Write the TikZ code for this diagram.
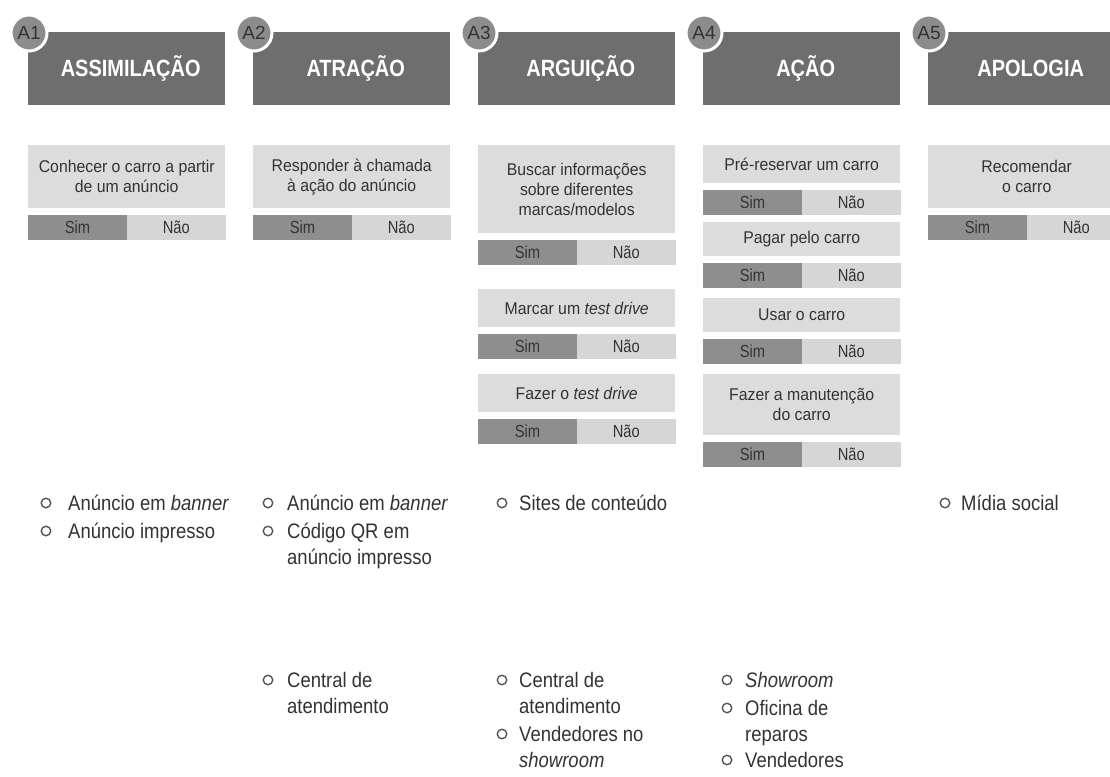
\documentclass[tikz,border=0pt]{standalone}
\usepackage{fontspec}
\setmainfont{Liberation Sans}
\newfontfamily\hdrf[FakeStretch=0.85]{Liberation Sans}
\newfontfamily\boxf[FakeStretch=0.93]{Liberation Sans}
\newfontfamily\simf[FakeStretch=0.84]{Liberation Sans}
\newfontfamily\lstf[FakeStretch=0.88]{Liberation Sans}
\definecolor{hdrc}{HTML}{6E6E6E}
\definecolor{circc}{HTML}{8C8C8C}
\definecolor{qc}{HTML}{DCDCDC}
\definecolor{simc}{HTML}{8E8E8E}
\definecolor{naoc}{HTML}{D6D6D6}
\definecolor{txtc}{HTML}{333333}
\definecolor{bulc}{HTML}{555555}
\tikzset{
  hdr/.style={fill=hdrc, anchor=north west, minimum width=197pt, minimum height=73pt, inner sep=0pt, text=white, font=\hdrf\bfseries\fontsize{23.5}{26}\selectfont},
  hdrtxt/.style={text=white, inner sep=0pt, font=\hdrf\bfseries\fontsize{23.5}{26}\selectfont},
  circ/.style={circle, fill=circc, draw=white, line width=3pt, minimum size=36pt, inner sep=0pt, text=txtc, font=\fontsize{19}{20}\selectfont},
  qbox/.style={fill=qc, anchor=north west, minimum width=197pt, inner sep=0pt, align=center, text=txtc, font=\boxf\fontsize{17}{20}\selectfont},
  simbox/.style={fill=simc, anchor=north west, minimum width=98.5pt, minimum height=25pt, inner sep=0pt, text=txtc, font=\simf\fontsize{17.5}{18}\selectfont},
  naobox/.style={simbox, fill=naoc},
  bul/.style={circle, draw=bulc, line width=1.4pt, minimum size=9.5pt, inner sep=0pt},
  itm/.style={anchor=base west, inner sep=0pt, text=txtc, font=\lstf\fontsize{21}{26}\selectfont},
}
\newcommand\decq[5]{%
  \node[qbox, minimum height=#4pt] (#1) at (#2,#3) {#5};
  \node[simbox] (#1s) at ([yshift=-6pt]#1.south west) {Sim};
  \node[naobox] (#1n) at (#1s.north east) {Não};
}
\newcommand\lstitem[5]{%
  \node[bul] (#1b) at (#2,#3) {};
  \node[itm] (#1) at (#4,#3+7) {#5};
}
\begin{document}
\begin{tikzpicture}[x=1pt,y=-1pt]
\useasboundingbox (0,0) rectangle (1110,776);
\fill[white] (0,0) rectangle (1110,776);
\clip (0,0) rectangle (1110,776);
% headers
\node[hdr] (h1) at (28,32) {\hspace*{8pt}ASSIMILAÇÃO};
\node[hdr] (h2) at (253,32) {\hspace*{8pt}ATRAÇÃO};
\node[hdr] (h3) at (478,32) {\hspace*{8pt}ARGUIÇÃO};
\node[hdr] (h4) at (703,32) {\hspace*{8pt}AÇÃO};
\node[hdr] (h5) at (928,32) {\hspace*{8pt}APOLOGIA};
\node[circ] (c1) at (29,33) {A1};
\node[circ] (c2) at (254,33) {A2};
\node[circ] (c3) at (479,33) {A3};
\node[circ] (c4) at (704,33) {A4};
\node[circ] (c5) at (929,33) {A5};
% decisions
\decq{q1}{28}{145}{63}{Conhecer o carro a partir\\de um anúncio}
\decq{q2}{253}{145}{63}{Responder à chamada\\à ação do anúncio}
\decq{q3a}{478}{145}{88}{Buscar informações\\sobre diferentes\\marcas/modelos}
\decq{q3b}{478}{289}{38}{Marcar um \textit{test drive}}
\decq{q3c}{478}{374}{38}{Fazer o \textit{test drive}}
\decq{q4a}{703}{145}{38}{Pré-reservar um carro}
\decq{q4b}{703}{222}{34}{Pagar pelo carro}
\decq{q4c}{703}{298}{34}{Usar o carro}
\decq{q4d}{703}{374}{61}{Fazer a manutenção\\do carro}
\decq{q5}{928}{145}{63}{Recomendar\\o carro}
% lists
\lstitem{l1a}{46}{503}{68}{Anúncio em \textit{banner}}
\lstitem{l1b}{46}{531}{68}{Anúncio impresso}
\lstitem{l2a}{268}{503}{287}{Anúncio em \textit{banner}}
\lstitem{l2b}{268}{531}{287}{\parbox[t]{170pt}{Código QR em\\anúncio impresso}}
\lstitem{l3a}{502}{503}{519}{Sites de conteúdo}
\lstitem{l5a}{945}{503}{961}{Mídia social}
\lstitem{l2c}{268}{680}{287}{\parbox[t]{170pt}{Central de\\atendimento}}
\lstitem{l3b}{502}{680}{519}{\parbox[t]{170pt}{Central de\\atendimento}}
\lstitem{l3c}{502}{734}{519}{\parbox[t]{170pt}{Vendedores no\\\textit{showroom}}}
\lstitem{l4a}{727}{680}{745}{\textit{Showroom}}
\lstitem{l4b}{727}{708}{745}{\parbox[t]{170pt}{Oficina de\\reparos}}
\lstitem{l4c}{727}{760}{745}{Vendedores}
\end{tikzpicture}
\end{document}
